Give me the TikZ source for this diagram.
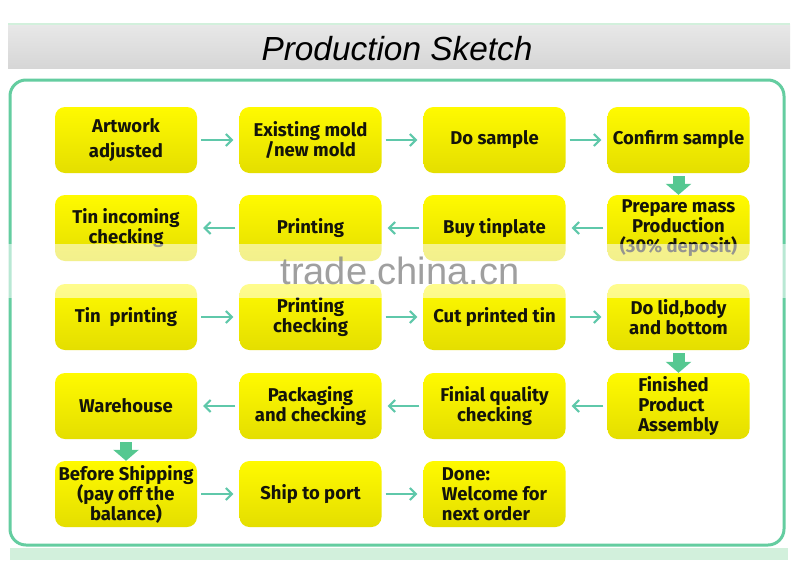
\documentclass[tikz,border=0pt]{standalone}
\usepackage{fontspec}
\newfontfamily\boxfont{Fira Sans}
\newfontfamily\wmfont{Liberation Sans}
\usetikzlibrary{arrows.meta,calc}
\definecolor{boxtop}{RGB}{255,250,0}
\definecolor{boxbot}{RGB}{228,222,0}
\definecolor{boxtext}{RGB}{20,20,10}
\definecolor{arrcol}{RGB}{95,200,170}
\definecolor{blockcol}{RGB}{85,200,145}
\definecolor{framecol}{RGB}{100,205,160}
\definecolor{bandcol}{RGB}{210,240,220}
\tikzset{
  box/.style={rectangle, rounded corners=10pt, minimum width=142pt, minimum height=66pt,
    top color=boxtop, bottom color=boxbot, draw=none, text=boxtext, align=center, inner sep=1pt,
    font=\boxfont\bfseries\fontsize{18.5}{20}\selectfont},
  harr/.style={draw=arrcol, line width=2pt, shorten <=4pt, shorten >=6pt,
    -{Straight Barb[length=6pt,width=12pt,line width=2pt]}},
  blockarr/.style={draw=blockcol, line width=12pt, shorten <=3pt,
    -{Triangle[length=11pt,width=25pt]}}
}
\begin{document}
\begin{tikzpicture}[x=1pt,y=-1pt]
\useasboundingbox (0,0) rectangle (800,573);
\fill[white] (0,0) rectangle (800,573);
% title bar
\shade[top color=black!9, bottom color=black!16] (8,24) rectangle (790,68);
\draw[draw=bandcol, line width=1.5pt] (8,24) -- (790,24);
\node[anchor=base, inner sep=0pt] (title) at (397,60)
  {\resizebox{271pt}{!}{\wmfont\itshape Production Sketch}};
% frame
\fill[bandcol] (10,548) rectangle (788,560);
\draw[framecol, line width=3pt, rounded corners=16pt] (10,80) rectangle (784,545);
% boxes
\node[box] (a1) at (126,140) {Artwork\\[5pt]adjusted};
\node[box] (a2) at (310.5,140) {Existing mold\\/new mold};
\node[box] (a3) at (494.5,140) {Do sample};
\node[box] (a4) at (678.5,140) {Confirm sample};
\node[box] (b4) at (678.5,228) {Prepare mass\\Production\\(30\% deposit)};
\node[box] (b3) at (494.5,228) {Buy tinplate};
\node[box] (b2) at (310.5,228) {Printing};
\node[box] (b1) at (126,228) {Tin incoming\\checking};
\node[box] (c1) at (126,317) {Tin\ \ printing};
\node[box] (c2) at (310.5,317) {Printing\\checking};
\node[box] (c3) at (494.5,317) {Cut printed tin};
\node[box] (c4) at (678.5,317) {Do lid,body\\and bottom};
\node[box, align=left] (d4) at (678.5,406) {Finished\\Product\\Assembly};
\node[box] (d3) at (494.5,406) {Finial quality\\checking};
\node[box] (d2) at (310.5,406) {Packaging\\and checking};
\node[box] (d1) at (126,406) {Warehouse};
\node[box] (e1) at (126,494) {Before Shipping\\(pay off the\\balance)};
\node[box] (e2) at (310.5,494) {Ship to port};
\node[box, align=left] (e3) at (494.5,494) {Done:\\Welcome for\\next order};
% arrows
\draw[harr] (a1.east) -- (a2.west);
\draw[harr] (a2.east) -- (a3.west);
\draw[harr] (a3.east) -- (a4.west);
\draw[blockarr] (a4.south) -- (b4.north);
\draw[harr] (b4.west) -- (b3.east);
\draw[harr] (b3.west) -- (b2.east);
\draw[harr] (b2.west) -- (b1.east);
\draw[harr] (c1.east) -- (c2.west);
\draw[harr] (c2.east) -- (c3.west);
\draw[harr] (c3.east) -- (c4.west);
\draw[blockarr] (c4.south) -- (d4.north);
\draw[harr] (d4.west) -- (d3.east);
\draw[harr] (d3.west) -- (d2.east);
\draw[harr] (d2.west) -- (d1.east);
\draw[blockarr] (d1.south) -- (e1.north);
\draw[harr] (e1.east) -- (e2.west);
\draw[harr] (e2.east) -- (e3.west);
% watermark band
\fill[white, opacity=0.55] (0,244) rectangle (800,298);
\node[text=black!50, opacity=0.75, font=\wmfont\fontsize{38}{40}\selectfont] (wm) at (400,271) {trade.china.cn};
\end{tikzpicture}
\end{document}
